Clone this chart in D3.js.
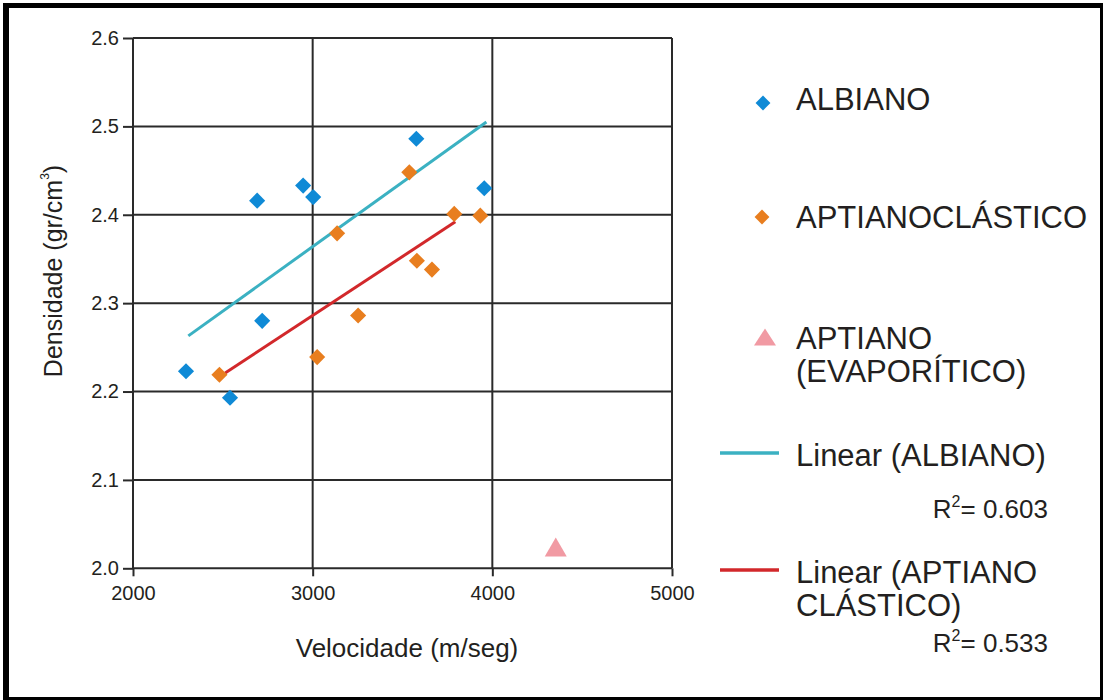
<!DOCTYPE html>
<html>
<head>
<meta charset="utf-8">
<script src="https://cdn.jsdelivr.net/npm/d3@7/dist/d3.min.js"></script>
<style>
  html, body { margin: 0; padding: 0; background: #fff; }
  svg { display: block; }
</style>
</head>
<body>
<div id="chart"></div>
<script>
// ALBIANO points
const albianoVel = [2295, 2540, 2691, 2719, 2947, 3003, 3577, 3955];
const albianoDens = [2.223, 2.193, 2.416, 2.280, 2.433, 2.420, 2.486, 2.430];

// APTIANO clástico points
const clasticoVel = [2481, 3025, 3136, 3253, 3538, 3580, 3664, 3788, 3933];
const clasticoDens = [2.219, 2.239, 2.379, 2.286, 2.448, 2.348, 2.338, 2.401, 2.399];

// APTIANO evaporítico
const evaporiticoVel = [4353];
const evaporiticoDens = [2.024];

// trendline end points (as drawn in the original)
const albianoTrendVel = [2308, 3967];
const albianoTrendDens = [2.263, 2.505];
const clasticoTrendVel = [2513, 3794];
const clasticoTrendDens = [2.221, 2.392];

const xTicks = [2000, 3000, 4000, 5000];
const yTicks = [2.0, 2.1, 2.2, 2.3, 2.4, 2.5, 2.6];
const r2Values = ["0.603", "0.533"];

(function() {
  const FONT = "Arial, 'Liberation Sans', sans-serif";
  const TEXTCOLOR = "#231f20";
  const GRIDCOLOR = "#2a2a2a";
  const BLUE = "#0f8ad6";
  const ORANGE = "#e87e1f";
  const PINK = "#f19aa3";
  const CYAN = "#3bb1c2";
  const RED = "#d2282b";

  const width = 1105;
  const height = 700;

  const svg = d3.select("#chart").append("svg")
    .attr("width", width)
    .attr("height", height);

  // frame
  svg.append("rect").attr("x", 3).attr("y", 3).attr("width", 1100).attr("height", 697).attr("fill", "#000");
  svg.append("rect").attr("x", 9).attr("y", 8).attr("width", 1091).attr("height", 689).attr("fill", "#fff");

  const x = d3.scaleLinear().domain([2000, 5000]).range([133, 672]);
  const y = d3.scaleLinear().domain([2.0, 2.6]).range([568.3, 38]);

  const zip = (xs, ys) => xs.map((v, i) => ({ vel: v, dens: ys[i] }));

  // grid
  const grid = svg.append("g");
  grid.selectAll("line.v").data(xTicks).enter().append("line")
    .attr("x1", d => x(d)).attr("x2", d => x(d))
    .attr("y1", y(2.6)).attr("y2", y(2.0))
    .attr("stroke", GRIDCOLOR).attr("stroke-width", 2);
  grid.selectAll("line.h").data(yTicks).enter().append("line")
    .attr("y1", d => y(d)).attr("y2", d => y(d))
    .attr("x1", x(2000)).attr("x2", x(5000))
    .attr("stroke", GRIDCOLOR).attr("stroke-width", 2);

  // axes
  const styleAxis = g => {
    g.select(".domain").remove();
    g.selectAll(".tick line").attr("stroke", GRIDCOLOR).attr("stroke-width", 2);
    g.selectAll(".tick text")
      .attr("fill", TEXTCOLOR)
      .style("font-family", FONT)
      .style("font-size", "20px");
  };

  svg.append("g")
    .attr("transform", `translate(${x(2000)},0)`)
    .call(d3.axisLeft(y).tickValues(yTicks).tickSize(10).tickPadding(4).tickFormat(d3.format(".1f")))
    .call(styleAxis);

  svg.append("g")
    .attr("transform", `translate(0,${y(2.0)})`)
    .call(d3.axisBottom(x).tickValues(xTicks).tickSize(8).tickPadding(10).tickFormat(d3.format("d")))
    .call(styleAxis);

  // axis titles
  svg.append("text")
    .attr("x", 407).attr("y", 657)
    .attr("text-anchor", "middle")
    .attr("fill", TEXTCOLOR)
    .style("font-family", FONT).style("font-size", "26px")
    .text("Velocidade (m/seg)");

  const yTitle = svg.append("text")
    .attr("transform", "translate(62,271) rotate(-90)")
    .attr("text-anchor", "middle")
    .attr("fill", TEXTCOLOR)
    .style("font-family", FONT).style("font-size", "25px");
  yTitle.append("tspan").text("Densidade (gr/cm");
  yTitle.append("tspan").attr("dy", -13).style("font-size", "12px").text("3");
  yTitle.append("tspan").attr("dy", 13).text(")");

  // trendlines
  const line = d3.line().x(d => x(d.vel)).y(d => y(d.dens));
  svg.append("path")
    .attr("d", line(zip(albianoTrendVel, albianoTrendDens)))
    .attr("stroke", CYAN).attr("stroke-width", 3).attr("fill", "none");
  svg.append("path")
    .attr("d", line(zip(clasticoTrendVel, clasticoTrendDens)))
    .attr("stroke", RED).attr("stroke-width", 3).attr("fill", "none");

  // markers
  const diamond = d3.symbol(d3.symbolSquare).size(130);
  const triangle = "M0,-9.5L11,9.5L-11,9.5Z";

  const drawDiamonds = (data, color) => {
    svg.append("g").selectAll("path").data(data).enter().append("path")
      .attr("d", diamond)
      .attr("transform", d => `translate(${x(d.vel)},${y(d.dens)}) rotate(45)`)
      .attr("fill", color);
  };
  drawDiamonds(zip(clasticoVel, clasticoDens), ORANGE);
  drawDiamonds(zip(albianoVel, albianoDens), BLUE);

  svg.append("g").selectAll("path").data(zip(evaporiticoVel, evaporiticoDens)).enter().append("path")
    .attr("d", triangle)
    .attr("transform", d => `translate(${x(d.vel)},${y(d.dens)})`)
    .attr("fill", PINK);

  // legend
  const legend = svg.append("g");
  const legendText = (lines, tx, baseline, lineGap) => {
    const t = legend.append("text")
      .attr("x", tx).attr("y", baseline)
      .attr("fill", TEXTCOLOR)
      .style("font-family", FONT).style("font-size", "31px");
    lines.forEach((s, i) => {
      t.append("tspan").attr("x", tx).attr("dy", i === 0 ? 0 : lineGap).text(s);
    });
  };

  legend.append("path").attr("d", d3.symbol(d3.symbolSquare).size(110))
    .attr("transform", "translate(763,103) rotate(45)").attr("fill", BLUE);
  legendText(["ALBIANO"], 796, 110, 0);

  legend.append("path").attr("d", d3.symbol(d3.symbolSquare).size(110))
    .attr("transform", "translate(762,217) rotate(45)").attr("fill", ORANGE);
  legendText(["APTIANOCLÁSTICO"], 796, 228, 0);

  legend.append("path").attr("d", "M0,-8.5L11,8.5L-11,8.5Z")
    .attr("transform", "translate(765,337)").attr("fill", PINK);
  legendText(["APTIANO", "(EVAPORÍTICO)"], 796, 349, 33);

  legend.append("line").attr("x1", 720).attr("x2", 779).attr("y1", 453).attr("y2", 453)
    .attr("stroke", CYAN).attr("stroke-width", 3.5);
  legendText(["Linear (ALBIANO)"], 796, 466, 0);

  legend.append("line").attr("x1", 720).attr("x2", 779).attr("y1", 570).attr("y2", 570)
    .attr("stroke", RED).attr("stroke-width", 3.5);
  legendText(["Linear (APTIANO", "CLÁSTICO)"], 796, 583, 33);

  const r2Text = (value, baseline) => {
    const t = legend.append("text")
      .attr("x", 1048).attr("y", baseline)
      .attr("text-anchor", "end")
      .attr("fill", TEXTCOLOR)
      .style("font-family", FONT).style("font-size", "26px");
    t.append("tspan").text("R");
    t.append("tspan").attr("dy", -11).style("font-size", "16px").text("2");
    t.append("tspan").attr("dy", 11).text("= " + value);
  };
  r2Text(r2Values[0], 518);
  r2Text(r2Values[1], 652);
})();
</script>
</body>
</html>
